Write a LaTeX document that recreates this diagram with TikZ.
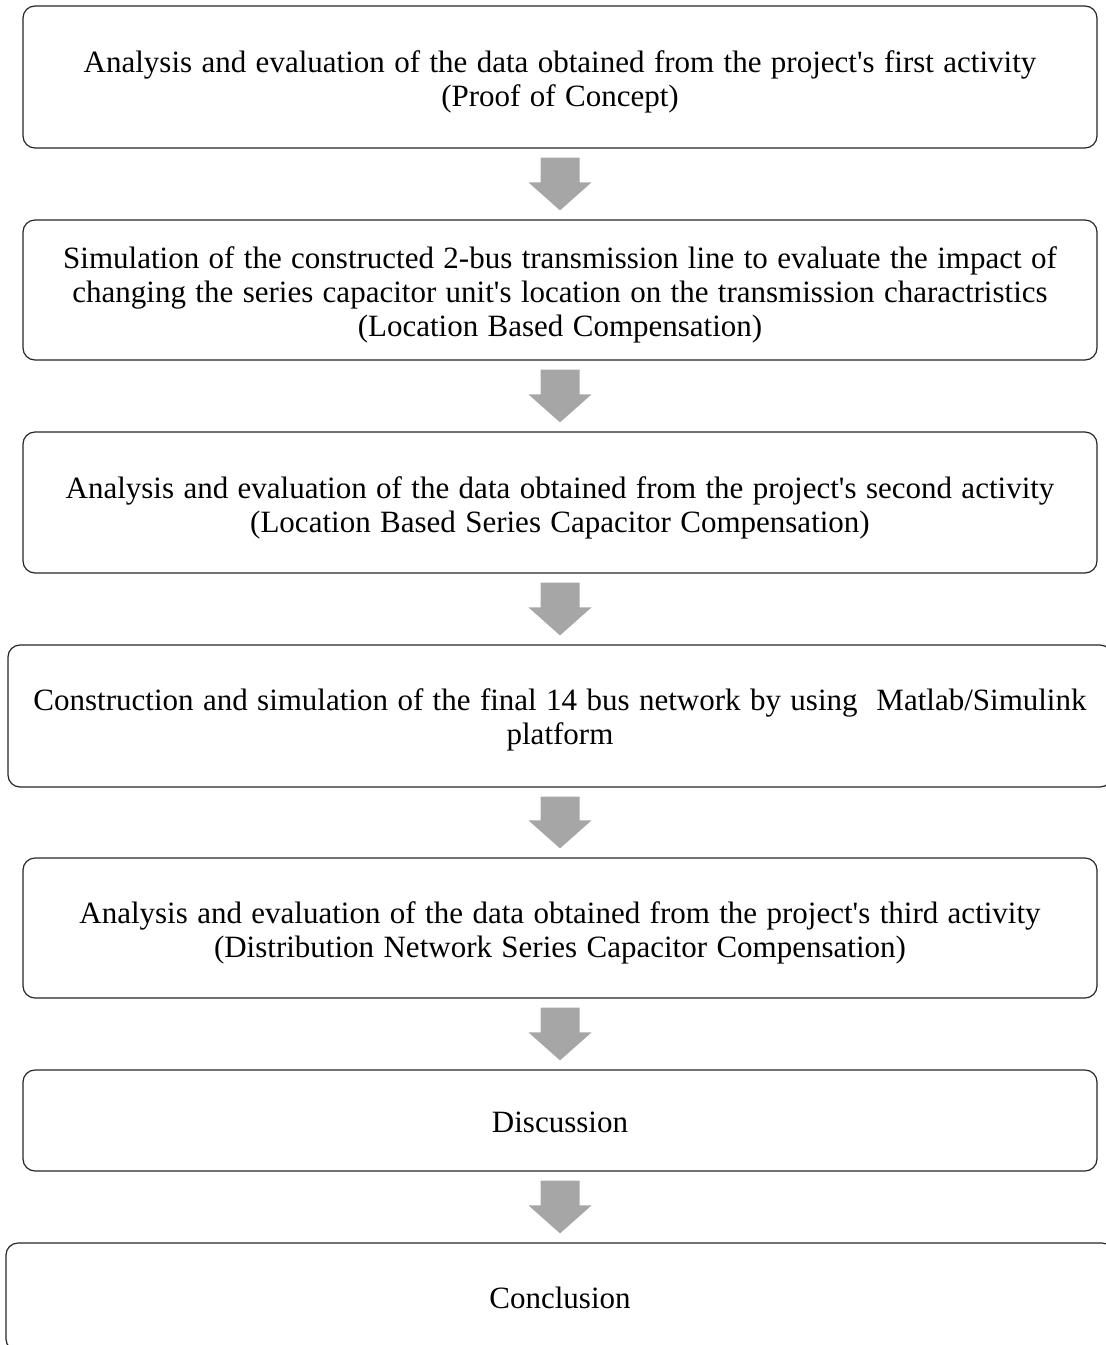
\documentclass[tikz,border=0pt]{standalone}
\usepackage{fontspec}
\setmainfont{Liberation Serif}
\usetikzlibrary{calc}
\definecolor{arrowgray}{HTML}{A6A6A6}
\newcommand{\apos}{\textquotesingle}
\newcommand{\stagefont}{\fontsize{31}{34}\selectfont\spaceskip=9.4pt\relax}
\tikzset{
  stagebox/.style={draw=black!85, line width=1.2pt, rounded corners=12pt, fill=white,
    inner sep=0pt},
  stagetext/.style={align=center, inner sep=0pt, font=\stagefont},
}
\newcommand{\blockarrow}[2]{%
  \fill[arrowgray] ($(#1.south)+(-19.5,9)$) -- ($(#1.south)+(19.5,9)$)
    -- ($(#2.north)+(19.5,-37)$) -- ($(#2.north)+(31.5,-37)$)
    -- ($(#2.north)+(0,-9)$)
    -- ($(#2.north)+(-31.5,-37)$) -- ($(#2.north)+(-19.5,-37)$) -- cycle;}
\begin{document}
\begin{tikzpicture}[x=1pt,y=-1pt]
\useasboundingbox (0,0) rectangle (1106,1345);
\clip (0,0) rectangle (1106,1345);
\node[stagebox, minimum width=1074pt, minimum height=142pt] (b1) at (560,77) {};
\node[stagetext] (t1) at ($(b1.center)+(0,5)$)
  {Analysis and evaluation of the data obtained from the project\apos s first activity\\(Proof of Concept)};
\node[stagebox, minimum width=1074pt, minimum height=140pt] (b2) at (560,290) {};
\node[stagetext] (t2) at ($(b2.center)+(0,5)$)
  {Simulation of the constructed 2-bus transmission line to evaluate the impact of\\changing the series capacitor unit\apos s location on the transmission charactristics\\(Location Based Compensation)};
\node[stagebox, minimum width=1074pt, minimum height=141pt] (b3) at (560,502.5) {};
\node[stagetext] (t3) at ($(b3.center)+(0,5)$)
  {Analysis and evaluation of the data obtained from the project\apos s second activity\\(Location Based Series Capacitor Compensation)};
\node[stagebox, minimum width=1104pt, minimum height=142pt] (b4) at (560,716) {};
\node[stagetext] (t4) at ($(b4.center)+(0,4)$)
  {Construction and simulation of the final 14 bus network by using\ \ Matlab/Simulink\\platform};
\node[stagebox, minimum width=1074pt, minimum height=140pt] (b5) at (560,928) {};
\node[stagetext] (t5) at ($(b5.center)+(0,5)$)
  {Analysis and evaluation of the data obtained from the project\apos s third activity\\(Distribution Network Series Capacitor Compensation)};
\node[stagebox, minimum width=1074pt, minimum height=101pt] (b6) at (560,1120.5) {};
\node[stagetext] (t6) at ($(b6.center)+(0,2)$) {Discussion};
\node[stagebox, minimum width=1108pt, minimum height=108pt] (b7) at (560,1297) {};
\node[stagetext] (t7) at ($(b7.center)+(0,1)$) {Conclusion};
\blockarrow{b1}{b2}
\blockarrow{b2}{b3}
\blockarrow{b3}{b4}
\blockarrow{b4}{b5}
\blockarrow{b5}{b6}
\blockarrow{b6}{b7}
\end{tikzpicture}
\end{document}
